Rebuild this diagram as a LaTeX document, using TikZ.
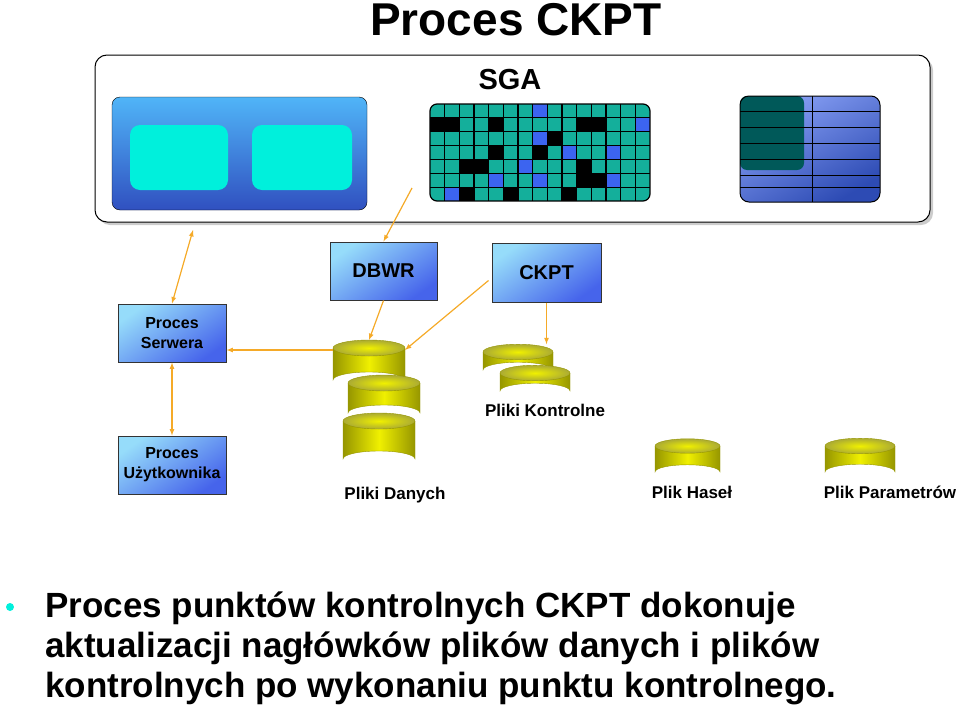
\documentclass[tikz,border=0pt]{standalone}
\usepackage{fontspec}
\setmainfont{Liberation Sans}
\usetikzlibrary{shadows}
\definecolor{orng}{RGB}{245,170,40}
\definecolor{teal1}{RGB}{20,175,155}
\definecolor{blu1}{RGB}{60,100,240}
\definecolor{cyan1}{RGB}{0,240,220}
\definecolor{ylw}{RGB}{240,240,0}
\definecolor{ylwd}{RGB}{150,150,0}
\definecolor{boxlt}{RGB}{150,220,250}
\definecolor{boxdk}{RGB}{70,100,235}
\tikzset{
 procbox/.style={draw=black!80,line width=1pt,inner sep=0pt,align=center,font=\bfseries\fontsize{16}{20}\selectfont,top color=boxlt,bottom color=boxdk,shading angle=35},
 arr/.style={draw=orng,line width=1.2pt,-latex},
 darr/.style={draw=orng,line width=1.2pt,latex-latex},
 lbl/.style={font=\bfseries\fontsize{17}{18}\selectfont},
}
\newcommand\mycyl[5]{% name, left x, top y, width, height
 \pgfmathsetmacro\rx{#4/2}\pgfmathsetmacro\ry{#4/9}
 \shade[left color=ylwd,right color=ylwd,middle color=ylw] (#2,#3) -- ++(0,#5) arc[start angle=180,end angle=360,x radius=\rx,y radius=\ry] -- ++(0,-#5) -- cycle;
 \draw[ylwd,line width=0.4pt] (#2,#3) -- ++(0,#5) arc[start angle=180,end angle=360,x radius=\rx,y radius=\ry] -- ++(0,-#5);
 \shade[inner color=ylw,outer color=ylwd!80] (#2+\rx,#3) ellipse[x radius=\rx,y radius=\ry];
 \draw[ylwd,line width=0.4pt] (#2+\rx,#3) ellipse[x radius=\rx,y radius=\ry];
 \coordinate (#1-n) at (#2+\rx,#3-\ry);
 \coordinate (#1-w) at (#2,#3+2);
 \coordinate (#1-ne) at (#2+#4,#3+2);
}
\begin{document}
\begin{tikzpicture}[x=1pt,y=-1pt]
\useasboundingbox (0,0) rectangle (960,715);
\node[font=\bfseries\fontsize{46}{48}\selectfont] (title) at (516,20) {Proces CKPT};
% SGA
\draw[fill=white,line width=1pt,rounded corners=12pt,drop shadow={shadow xshift=3pt,shadow yshift=-3pt,opacity=0.4}] (95,55) rectangle (930,222);
\node[font=\bfseries\fontsize{29}{30}\selectfont] (sga) at (510,80) {SGA};
% left block
\shade[rounded corners=8pt,top color=blu1!60!cyan!80!white,bottom color=blu1!80!black] (112,97) rectangle (367,210);
\draw[rounded corners=8pt,black] (112,97) rectangle (367,210);
\fill[cyan1,rounded corners=10pt] (130,125) rectangle (228,190);
\fill[cyan1,rounded corners=10pt] (252,125) rectangle (352,190);
\coordinate (lb) at (193,230);
% grid
\begin{scope}
\clip[rounded corners=7pt] (430,104) rectangle (650,201);
\fill[teal1] (430,104) rectangle (650,201);
\foreach \r/\c/\col in {0/7/blu1,1/0/black,1/1/black,1/4/black,1/10/black,1/11/black,1/14/blu1,2/7/blu1,2/8/black,3/4/black,3/7/black,3/9/blu1,3/12/blu1,4/2/black,4/3/black,4/6/blu1,4/10/black,5/4/blu1,5/7/blu1,5/10/black,5/11/black,5/12/blu1,6/1/blu1,6/2/black,6/5/black,6/9/black}
 \fill[\col] (430+\c*14.67,104+\r*13.86) rectangle ++(14.67,13.86);
\foreach \c in {1,...,14} \draw[line width=1.2pt] (430+\c*14.67,104) -- ++(0,97);
\foreach \r in {1,...,6} \draw[line width=1.2pt] (430,104+\r*13.86) -- ++(220,0);
\end{scope}
\draw[rounded corners=7pt,line width=1.2pt] (430,104) rectangle (650,201);
\coordinate (grid) at (412,188);
% right block
\shade[rounded corners=9pt,top color=blu1!60!white,bottom color=blu1!75!black,shading angle=30] (740,96) rectangle (880,202);
\fill[teal!70!black,rounded corners=7pt] (740,96) rectangle (804,170);
\foreach \y in {111,127,143,159,175,187} \draw[line width=0.8pt] (740,\y) -- (880,\y);
\draw[line width=0.8pt] (812,96) -- (812,202);
\draw[rounded corners=9pt,line width=1pt] (740,96) rectangle (880,202);
% process boxes
\node[procbox,minimum width=107pt,minimum height=58pt,font=\bfseries\fontsize{20}{22}\selectfont] (dbwr) at (383.5,271) {DBWR};
\node[procbox,minimum width=109pt,minimum height=59pt,font=\bfseries\fontsize{20}{22}\selectfont] (ckpt) at (546.5,272.5) {CKPT};
\node[procbox,minimum width=108pt,minimum height=58pt] (serw) at (172,333) {Proces\\Serwera};
\node[procbox,minimum width=108pt,minimum height=58pt] (uzyt) at (172,465) {Proces\\Użytkownika};
% cylinders
\mycyl{d1}{333}{348}{72}{32}
\mycyl{d2}{348}{383}{72}{30}
\mycyl{d3}{343}{421}{72}{38}
\mycyl{k1}{483}{352}{70}{18}
\mycyl{k2}{500}{373}{70}{18}
\mycyl{h}{655}{446}{65}{26}
\mycyl{p}{825}{446}{70}{26}
\node[lbl] (lkontr) at (545,410) {Pliki Kontrolne};
\node[lbl] (ldan) at (395,495) {Pliki Danych};
\node[lbl] (lhas) at (692,492) {Plik Haseł};
\node[lbl] (lpar) at (890,492) {Plik Parametrów};
% arrows
\draw[darr] (lb) -- (serw.north);
\draw[darr] (serw.south) -- (uzyt.north);
\draw[arr] (d1-w) -- (d1-w -| serw.east);
\draw[arr] (dbwr.south) -- (d1-n);
\draw[arr] (ckpt.west) ++(-3,8) -- (d1-ne);
\draw[arr] (ckpt.south) -- (k1-n -| ckpt.south);
\draw[arr] (grid) -- (dbwr.north);
% bottom text
\fill[cyan1] (10,607) circle (4);
\node[anchor=north west,align=left,inner sep=0pt,font=\bfseries\fontsize{35}{40}\selectfont] (txt) at (45,592) {Proces punktów kontrolnych CKPT dokonuje\\aktualizacji nagłówków plików danych i plików\\kontrolnych po wykonaniu punktu kontrolnego.};
\end{tikzpicture}
\end{document}
